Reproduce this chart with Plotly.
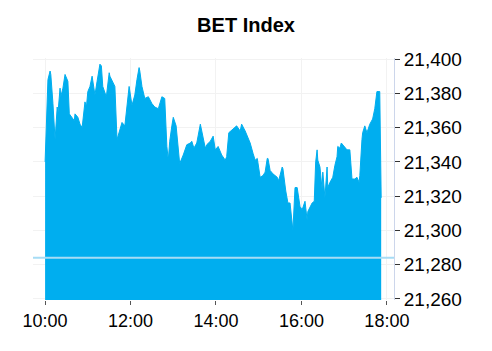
import plotly.graph_objects as go
import pandas as pd

# minutes after 10:00 and index values
minutes = [0, 1, 3, 4, 7, 8, 11, 14, 17, 18, 21, 22, 25, 28, 29, 32, 34, 38, 41, 42,
           46, 49, 52, 56, 58, 60, 63, 66, 70, 73, 76, 77, 79, 81, 86, 90, 91, 94, 98, 101,
           104, 108, 112, 115, 118, 122, 126, 129, 132, 133, 136, 140, 145, 150, 154, 159, 164, 168, 171, 173,
           175, 178, 180, 184, 187, 189, 194, 199, 204, 206, 209, 213, 218, 219, 222, 225, 227, 232, 236, 239,
           243, 246, 248, 253, 255, 258, 264, 269, 274, 276, 281, 285, 288, 292, 295, 298, 302, 306, 309, 312,
           313, 316, 320, 326, 328, 333, 334, 338, 341, 344, 348, 351, 354, 358, 361, 365, 368, 369, 375, 378,
           379, 380, 382, 383, 386, 389, 390, 393, 396, 397, 400, 404, 407, 410, 411, 414, 416, 418, 421, 424,
           428, 431, 435, 438, 441, 442, 445, 446, 449, 452, 456, 460, 463, 466, 470, 472]
values = [21340, 21352, 21372, 21388, 21393, 21391, 21374, 21353, 21372, 21368, 21383, 21378, 21383, 21391, 21390, 21387, 21368, 21366, 21364, 21368,
          21366, 21362, 21360, 21375, 21372, 21381, 21384, 21390, 21379, 21387, 21393, 21397, 21396, 21384, 21378, 21392, 21390, 21387, 21384, 21353,
          21358, 21363, 21361, 21372, 21384, 21373, 21379, 21388, 21395, 21393, 21384, 21377, 21378, 21374, 21372, 21371, 21378, 21377, 21349, 21341,
          21352, 21361, 21366, 21361, 21350, 21339, 21344, 21350, 21351, 21352, 21348, 21351, 21362, 21360, 21353, 21348, 21350, 21352, 21355, 21347,
          21349, 21346, 21344, 21341, 21343, 21357, 21359, 21361, 21358, 21362, 21358, 21354, 21351, 21345, 21341, 21342, 21331, 21332, 21334, 21342,
          21342, 21335, 21333, 21331, 21329, 21337, 21336, 21323, 21316, 21316, 21300, 21325, 21325, 21314, 21312, 21317, 21306, 21311, 21316, 21317,
          21331, 21340, 21347, 21341, 21337, 21324, 21334, 21319, 21337, 21325, 21328, 21331, 21338, 21343, 21349, 21348, 21351, 21350, 21348, 21347,
          21347, 21330, 21330, 21331, 21328, 21332, 21353, 21357, 21361, 21357, 21362, 21365, 21371, 21381, 21381, 21319]
prev_close = 21284
y_ticks = [21260, 21280, 21300, 21320, 21340, 21360, 21380, 21400]

base = pd.Timestamp("2024-01-01 10:00")
times = [base + pd.Timedelta(minutes=m) for m in minutes]

FONT = "Liberation Sans, Arial, sans-serif"
BLUE = "#00aeef"

fig = go.Figure()
fig.add_trace(go.Scatter(x=times, y=values, mode="lines", fill="tozeroy",
                         line=dict(color=BLUE, width=1), fillcolor=BLUE,
                         showlegend=False, hoverinfo="skip"))

x0 = base - pd.Timedelta(minutes=17)
x1 = base + pd.Timedelta(minutes=490)
fig.add_trace(go.Scatter(x=[x0, x1], y=[prev_close, prev_close], mode="lines",
                         line=dict(color="#a6dcf5", width=2), showlegend=False,
                         hoverinfo="skip"))

fig.update_layout(
    width=492, height=351,
    margin=dict(l=33, r=98, t=58, b=51),
    paper_bgcolor="white", plot_bgcolor="white",
    font=dict(family=FONT, size=18, color="#000000"),
    title=dict(text="<b>BET Index</b>", x=0.5, xanchor="center", y=0.93, yanchor="middle",
               font=dict(family=FONT, size=20, color="#000000")),
)
fig.update_xaxes(
    type="date", range=[x0, x1],
    tickformat="%H:%M", dtick=2 * 3600 * 1000,
    tick0=base,
    showgrid=True, gridcolor="#f2f2f2", gridwidth=1,
    ticks="outside", ticklen=4, tickcolor="#555555",
    showline=False, zeroline=False,
    tickfont=dict(family=FONT, size=18, color="#000000"),
)
fig.update_yaxes(
    side="right", range=[21259.4, 21400.6],
    tickvals=y_ticks, ticktext=[f"{v:,}" for v in y_ticks],
    showgrid=True, gridcolor="#f2f2f2", gridwidth=1,
    ticks="outside", ticklen=5, tickcolor="#333333",
    showline=True, linecolor="#ccd6eb", linewidth=1,
    zeroline=False,
    tickfont=dict(family=FONT, size=19, color="#000000"),
)

fig.write_html("out.html")
